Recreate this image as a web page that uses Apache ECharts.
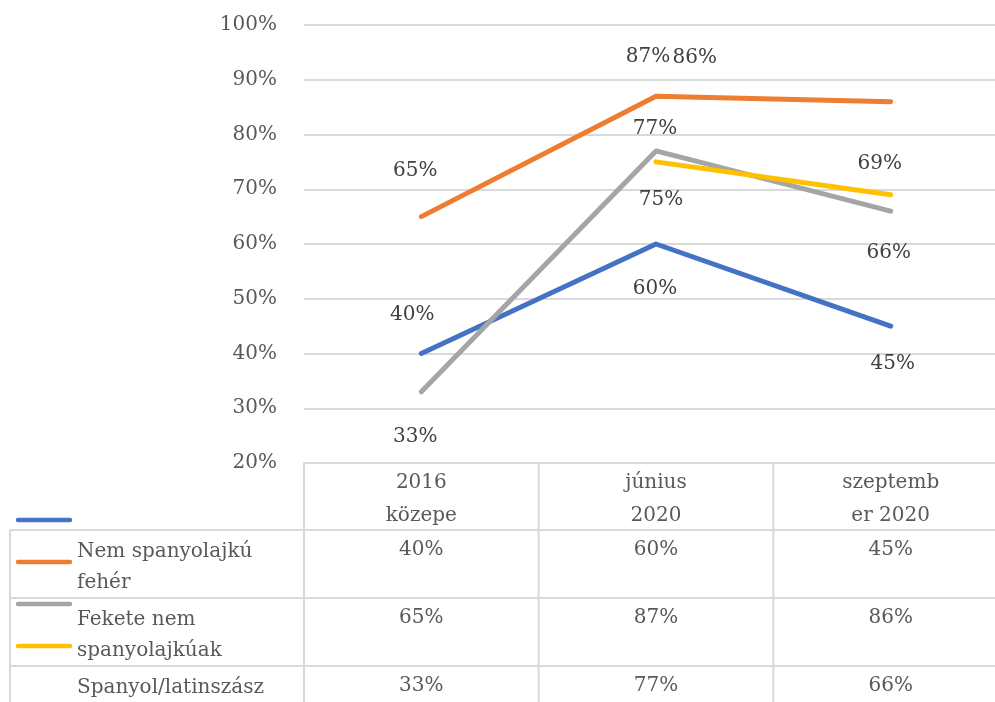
<!DOCTYPE html>
<html>
<head>
<meta charset="utf-8">
<script src="https://cdn.jsdelivr.net/npm/echarts@6/dist/echarts.min.js"></script>
<style>
  html, body { margin: 0; padding: 0; background: #fff; }
  #chart { width: 995px; height: 702px; }
</style>
</head>
<body>
<div id="chart"></div>
<script>
// data
const categories = ['2016\nközepe', 'június\n2020', 'szeptemb\ner 2020'];
const seriesNames = ['Nem spanyolajkú\nfehér', 'Fekete nem\nspanyolajkúak', 'Spanyol/latinszász\nok', 'Ázsiai'];
const whiteValues = [40, 60, 45];
const blackValues = [65, 87, 86];
const hispanicValues = [33, 77, 66];
const asianValues = ['-', 75, 69];
const yMin = 20, yMax = 100, yStep = 10;

const valueSets = [whiteValues, blackValues, hispanicValues, asianValues];
const colors = ['#4472C4', '#ED7D31', '#A5A5A5', '#FFC000'];

// where excel put each data label, relative to its point
const labelOffsets = [
  [[-9, -39], [-1, 45], [2, 38]],
  [[-6, -46], [-8, -39], [-196, -44]],
  [[-6, 45], [-1, -22], [-2, 42]],
  [[0, 0], [5, 38], [-11, -31]]
];

const FONT = '"DejaVu Serif", serif';
const gridCol = '#d9d9d9';

const chart = echarts.init(document.getElementById('chart'));

const option = {
  animation: false,
  grid: { left: 304, top: 25, right: -13, bottom: 239, outerBoundsMode: 'none', containLabel: false },
  xAxis: {
    type: 'category',
    data: categories,
    axisLine: { show: true, lineStyle: { color: gridCol, width: 2 } },
    axisTick: { show: false },
    axisLabel: { show: false }
  },
  yAxis: {
    type: 'value',
    min: yMin,
    max: yMax,
    interval: yStep,
    axisLine: { show: false },
    axisTick: { show: false },
    axisLabel: { formatter: '{value}%', color: '#595959', fontFamily: FONT, fontSize: 20, margin: 27 },
    splitLine: { lineStyle: { color: gridCol, width: 1.8 } }
  },
  series: valueSets.map((vals, s) => ({
    type: 'line',
    name: seriesNames[s],
    data: vals.map((v, i) => v === '-' ? '-' : { value: v, label: { offset: labelOffsets[s][i] } }),
    symbol: 'circle',
    symbolSize: 1,
    itemStyle: { color: colors[s] },
    lineStyle: { color: colors[s], width: 5, cap: 'round', join: 'round' },
    label: {
      show: true,
      position: 'inside',
      formatter: '{c}%',
      color: '#404040',
      fontFamily: FONT,
      fontSize: 20
    },
    emphasis: { disabled: true }
  }))
};

chart.setOption(option);

// data table under the plot
const cx = categories.map((c, i) => chart.convertToPixel({ xAxisIndex: 0 }, i));
const band = cx[1] - cx[0];
const tableTop = chart.convertToPixel({ yAxisIndex: 0 }, yMin);
const headH = 67, rowH = 68, tableLeft = 10, tableRight = 1010;
const rowCount = 3 + 1;
const bottom = tableTop + headH + rowH * rowCount;

const els = [];
const lineStyle = { stroke: gridCol, lineWidth: 2 };

// vertical borders
for (let i = 0; i <= categories.length; i++) {
  const x = cx[0] - band / 2 + band * i;
  els.push({ type: 'line', shape: { x1: x, y1: tableTop, x2: x, y2: bottom }, style: lineStyle });
}
els.push({ type: 'line', shape: { x1: tableLeft, y1: tableTop + headH, x2: tableLeft, y2: bottom }, style: lineStyle });
// horizontal borders
for (let r = 0; r <= rowCount; r++) {
  const y = tableTop + headH + rowH * r;
  els.push({ type: 'line', shape: { x1: tableLeft, y1: y, x2: tableRight, y2: y }, style: lineStyle });
}
// header
categories.forEach((c, i) => {
  els.push({
    type: 'text',
    style: { text: c, x: cx[i], y: tableTop + 36, align: 'center', verticalAlign: 'middle',
      font: '20px ' + FONT, fill: '#595959', lineHeight: 33 }
  });
});
// rows
valueSets.forEach((vals, s) => {
  const top = tableTop + headH + rowH * s;
  els.push({
    type: 'text',
    style: { text: seriesNames[s], x: 77, y: top + 6, align: 'left', verticalAlign: 'top',
      font: '20px ' + FONT, fill: '#595959', lineHeight: 31 }
  });
  vals.forEach((v, i) => {
    els.push({
      type: 'text',
      style: { text: v === '-' ? '' : v + '%', x: cx[i], y: top + 20, align: 'center', verticalAlign: 'middle',
        font: '20px ' + FONT, fill: '#595959' }
    });
  });
  // legend key (excel shifted them up)
  const ky = tableTop + 57 + 42 * s;
  els.push({
    type: 'line',
    shape: { x1: 18, y1: ky, x2: 70, y2: ky },
    style: { stroke: colors[s], lineWidth: 4.5, lineCap: 'round' }
  });
});

chart.setOption({ graphic: { elements: els } });
</script>
</body>
</html>
